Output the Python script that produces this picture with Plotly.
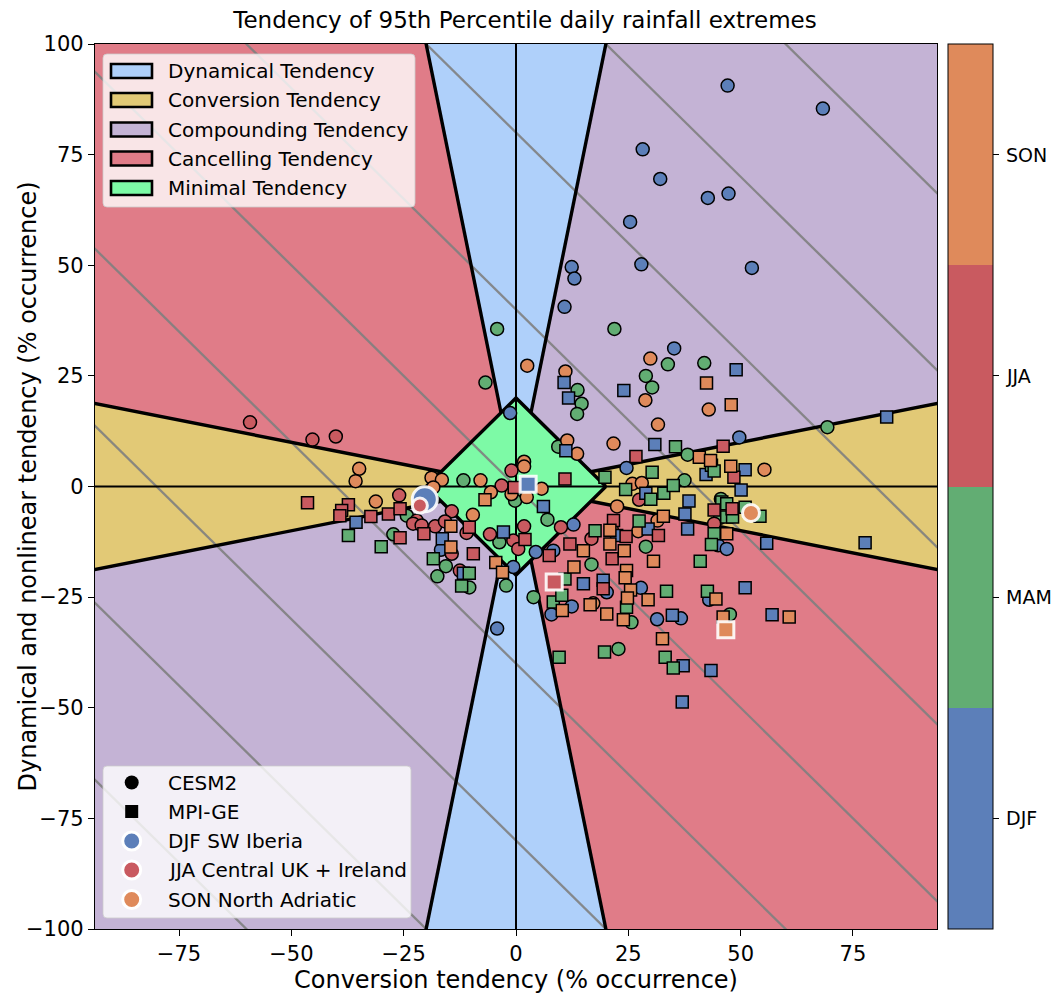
import plotly.graph_objects as go

# ---------------------------------------------------------------- data
seasons = ["DJF", "MAM", "JJA", "SON"]
season_colors = ["#5c7fb9", "#62ad73", "#c95a60", "#df8a5b"]

# CESM2 members (circles)
cesm2_djf_x = [47.1, 68.3, 28.2, 32.1, 42.7, 47.3, 25.4, 27.9, 52.5, 12.4, 13.0, 10.8, 35.2, -1.3, 49.7, 24.6,
               12.8, 4.4, 8.3, -0.6, 20.2, 27.8, 7.9, 12.4, 31.4, 36.7, 43.0, 45.0, 46.9, -16.7, -4.2]
cesm2_djf_y = [90.6, 85.4, 76.2, 69.5, 65.2, 66.2, 59.8, 50.2, 49.4, 49.6, 47.0, 40.6, 31.2, 16.6, 11.1, 4.2,
               -8.6, -14.8, -14.5, -18.2, -23.9, -22.9, -28.9, -27.1, -30.0, -29.8, -25.6, -13.3, -14.1, -14.3, -32.1]
cesm2_mam_x = [-4.2, 21.9, 33.8, 41.9, -6.8, 13.7, 14.6, 13.6, 28.9, 30.3, 9.4, 38.2, 69.3, 37.5, 45.6, 45.4,
               47.6, 7.0, 28.9, 16.8, 3.9, 25.7, 22.8, -27.3, -24.3, -11.7, -15.6, -17.5, -10.4, -2.2, -3.7, -0.2]
cesm2_mam_y = [35.6, 35.6, 27.6, 27.9, 23.5, 21.8, 18.7, 16.4, 25.0, 22.4, 9.0, 7.2, 13.4, 1.4, -2.8, -7.1,
               -28.9, -7.5, -13.6, -17.6, -25.0, -30.7, -36.7, -10.8, -6.6, 1.4, -18.0, -20.3, -22.8, -22.4, -12.6, -3.2]
cesm2_jja_x = [-59.2, -45.3, -40.1, -26.0, -22.1, -22.9, -21.0, -14.3, -18.0, -15.8, -11.0, -14.3, -12.5,
               -5.8, -0.6, -3.2, -1.0, 27.4, 44.1, 10.0, 16.8, 1.8, 0.5]
cesm2_jja_y = [14.5, 10.6, 11.3, -2.0, -7.7, -8.4, -8.8, -5.6, -9.0, -7.9, -10.5, -15.2, -19.0,
               -10.8, -12.2, 0.2, 3.6, -3.0, -8.4, -9.2, -11.8, -9.0, -14.1]
cesm2_son_x = [29.9, 2.5, 11.0, 28.8, 42.9, 31.6, 21.7, 11.4, 13.6, 1.8, 1.8, 55.3, 25.9, 28.0, 22.5, 31.5,
               21.3, 27.2, 17.2, -34.9, -35.7, -31.2, -18.8, -16.5, -18.4, -7.9, -9.6, -5.6, 5.7, -1.0, 2.4]
cesm2_son_y = [28.9, 27.3, 26.0, 19.5, 17.4, 14.0, 9.7, 10.4, 7.4, 5.6, 4.5, 3.8, 0.6, 0.8, -4.5, -7.7,
               -9.6, -10.1, -26.4, 4.0, 1.2, -3.4, 2.0, 1.5, -0.2, 1.4, -6.4, -1.3, -0.5, -1.7, -2.4]

# MPI-GE members (squares)
mpi_djf_x = [49.0, 10.7, 11.7, 24.0, 30.9, 11.1, 51.0, 42.3, 28.9, 50.1, 38.5, 37.6, 22.4, 29.4, 38.2, 82.5,
             55.8, 77.7, 6.1, 15.0, 19.4, 34.8, 51.0, 37.2, 43.4, 37.0, 57.0, -35.6, -16.4, -11.7, -2.8]
mpi_djf_y = [26.4, 23.5, 20.0, 21.7, 9.5, 8.1, 3.8, 2.7, -1.5, -0.8, -3.3, -6.2, -11.1, -9.6, -9.6, 15.7,
             -12.8, -12.7, -4.5, -22.0, -21.2, -29.1, -22.9, -40.5, -41.6, -48.7, -29.0, -8.1, -11.8, -19.6, -10.3]
mpi_mam_x = [35.5, 30.3, 19.8, 24.4, 30.0, 32.9, 35.0, 45.8, 46.9, 44.1, 17.6, 27.4, 43.5, 44.1, 46.9, 48.2,
             51.0, 54.3, 43.5, 41.0, 33.5, 42.6, 24.6, 19.7, 9.6, 33.2, 35.0, 8.3, 10.2, 10.9, -37.3, -30.0,
             -18.4, -10.4, -12.1]
mpi_mam_y = [9.0, 3.2, 2.1, -0.7, -2.9, -1.5, 0.2, -3.5, -6.9, -10.7, -10.0, -7.8, 4.8, 3.5, -3.9, -6.9,
             -4.7, -6.7, -13.1, -16.9, -23.7, -23.7, -27.3, -37.4, -38.6, -38.6, -41.0, -26.1, -24.6, -20.9, -11.1,
             -13.6, -16.3, -19.6, -22.5]
mpi_jja_x = [46.1, 26.7, 48.5, 44.1, 48.1, 21.7, 31.7, 10.9, 24.5, 12.0, 7.4, 21.4, 19.4, -46.4, -37.3, -38.8,
             -39.2, -32.3, -28.4, -25.8, -25.8, -10.4, -9.5, -0.4, 2.0, -20.5]
mpi_jja_y = [9.1, 6.8, 2.1, -5.3, -5.0, -7.7, -11.1, 1.7, -11.3, -13.0, -15.6, -16.3, -23.1, -3.7, -4.1, -5.4,
             -6.6, -6.8, -6.2, -5.0, -11.6, -9.2, -15.2, -0.2, -12.0, -10.7]
mpi_son_x = [42.4, 47.9, 40.8, 43.3, 47.8, 32.8, 20.9, 46.9, 20.9, 15.0, 24.1, 30.6, 12.9, 24.6, 24.3, 25.5,
             24.8, 29.4, 44.5, 10.3, 16.5, 20.2, 23.9, 46.1, 32.6, 60.8, -6.9, -14.5, -14.5, -4.5, -3.0]
mpi_son_y = [23.4, 18.5, 6.6, 5.9, 4.6, -6.7, -9.9, -10.7, -13.0, -14.5, -14.5, -16.9, -18.2, -19.0, -20.6, -23.4,
             -25.2, -25.6, -25.4, -28.0, -26.7, -28.8, -30.1, -29.5, -34.4, -29.5, -3.0, -9.0, -13.7, -17.2, -19.4]

# highlighted regions (one value per model)
region_names = ["DJF SW Iberia", "JJA Central UK + Ireland", "SON North Adriatic"]
region_colors = [season_colors[0], season_colors[2], season_colors[3]]
region_cesm2_x = [-20.3, -21.4, 52.3]
region_cesm2_y = [-2.9, -4.3, -6.0]
region_mpi_x = [2.7, 8.5, 46.7]
region_mpi_y = [0.5, -21.6, -32.4]

# tendency classes
class_names = ["Dynamical Tendency", "Conversion Tendency", "Compounding Tendency",
               "Cancelling Tendency", "Minimal Tendency"]
class_colors = ["#afd0fa", "#e2c976", "#c4b3d5", "#e07c88", "#7dfaa6"]

x_ticks = [-75, -50, -25, 0, 25, 50, 75]
y_ticks = [-100, -75, -50, -25, 0, 25, 50, 75, 100]
XR = 93.7
YR = 100

# ---------------------------------------------------------- geometry
R = 20.0          # half-diagonal of the minimal-tendency diamond
S = 5.0           # slope separating dynamical / compounding-cancelling
E = 115.0         # far extent (clipped by the axes)
a = R / (1 + S)   # x where y = S*x meets the diamond edge
b = R * S / (1 + S)

FONT = "DejaVu Sans"
fig = go.Figure()


def poly(xs, ys, color):
    fig.add_trace(go.Scatter(x=xs + [xs[0]], y=ys + [ys[0]], mode="lines", fill="toself",
                             fillcolor=color, line=dict(width=0), hoverinfo="skip", showlegend=False))


# dynamical (|y| > 5|x|)
poly([0, a, E / S, -E / S, -a], [R, b, E, E, b], class_colors[0])
poly([0, a, E / S, -E / S, -a], [-R, -b, -E, -E, -b], class_colors[0])
# conversion (|y| < |x|/5)
poly([R, b, E, E, b], [0, a, E / S, -E / S, -a], class_colors[1])
poly([-R, -b, -E, -E, -b], [0, a, E / S, -E / S, -a], class_colors[1])
# compounding (same sign)
poly([a, E / S, E, E, b], [b, E, E, E / S, a], class_colors[2])
poly([-a, -E / S, -E, -E, -b], [-b, -E, -E, -E / S, -a], class_colors[2])
# cancelling (opposite sign)
poly([-a, -E / S, -E, -E, -b], [b, E, E, E / S, a], class_colors[3])
poly([a, E / S, E, E, b], [-b, -E, -E, -E / S, -a], class_colors[3])
# minimal
poly([R, 0, -R, 0], [0, R, 0, -R], class_colors[4])

# lines of constant total change (x + y = const)
gx, gy = [], []
for c in range(-200, 201, 40):
    gx += [-E, E, None]
    gy += [c + E, c - E, None]
fig.add_trace(go.Scatter(x=gx, y=gy, mode="lines", line=dict(color="rgba(128,128,128,0.9)", width=2.3),
                         hoverinfo="skip", showlegend=False))

# class boundaries
bx, by = [], []
for sx in (1, -1):
    for sy in (1, -1):
        bx += [sx * a, sx * E / S, None, sx * b, sx * E, None]
        by += [sy * b, sy * E, None, sy * a, sy * E / S, None]
bx += [R, 0, -R, 0, R]
by += [0, R, 0, -R, 0]
fig.add_trace(go.Scatter(x=bx, y=by, mode="lines", line=dict(color="black", width=3.4),
                         hoverinfo="skip", showlegend=False))
fig.add_trace(go.Scatter(x=[-E, E, None, 0, 0], y=[0, 0, None, -E, E], mode="lines",
                         line=dict(color="black", width=2), hoverinfo="skip", showlegend=False))

# ------------------------------------------------------------ points
colorscale = []
for i, c in enumerate(season_colors):
    colorscale += [[i / 4, c], [(i + 1) / 4, c]]


def combine(parts):
    xs, ys, cs = [], [], []
    for k, (px_, py_) in enumerate(parts):
        xs += px_
        ys += py_
        cs += [k] * len(px_)
    return xs, ys, cs


cx, cy, cc = combine([(cesm2_djf_x, cesm2_djf_y), (cesm2_mam_x, cesm2_mam_y),
                      (cesm2_jja_x, cesm2_jja_y), (cesm2_son_x, cesm2_son_y)])
mx, my, mc = combine([(mpi_djf_x, mpi_djf_y), (mpi_mam_x, mpi_mam_y),
                      (mpi_jja_x, mpi_jja_y), (mpi_son_x, mpi_son_y)])

L, T, W, H = 95, 44, 842, 885
CB_X0, CB_W = 948, 45

# season labels are written next to the bar as annotations (see below)
colorbar = dict(tickvals=[0, 1, 2, 3], ticktext=seasons, thickness=CB_W, len=1, lenmode="fraction",
                y=0.5, yanchor="middle", x=(CB_X0 - L) / W, xanchor="left", xpad=0, ypad=0,
                outlinecolor="black", outlinewidth=1, ticks="outside", ticklen=6, tickwidth=1.2,
                tickcolor="black", showticklabels=False)

fig.add_trace(go.Scatter(x=cx, y=cy, mode="markers", name="CESM2", showlegend=False,
                         marker=dict(symbol="circle", size=13, color=cc, colorscale=colorscale,
                                     cmin=-0.5, cmax=3.5, line=dict(color="black", width=1.5),
                                     showscale=True, colorbar=colorbar)))
fig.add_trace(go.Scatter(x=mx, y=my, mode="markers", name="MPI-GE", showlegend=False,
                         marker=dict(symbol="square", size=12, color=mc, colorscale=colorscale,
                                     cmin=-0.5, cmax=3.5, line=dict(color="black", width=1.5))))

hl_sizes = [25, 15, 17]
for i, name in enumerate(region_names):
    fig.add_trace(go.Scatter(x=[region_cesm2_x[i]], y=[region_cesm2_y[i]], mode="markers", showlegend=False,
                             marker=dict(symbol="circle", size=hl_sizes[i], color=region_colors[i],
                                         line=dict(color="rgba(255,255,255,0.9)", width=3))))
    fig.add_trace(go.Scatter(x=[region_mpi_x[i]], y=[region_mpi_y[i]], mode="markers", showlegend=False,
                             marker=dict(symbol="square", size=16, color=region_colors[i],
                                         line=dict(color="rgba(255,255,255,0.9)", width=3))))

# ------------------------------------------------------------ legends


def px(xp):
    return (xp - L) / W


def py(yp):
    return (T + H - yp) / H


def rounded_box(x0, y0, x1, y1, r=4):
    X0, X1, Y0, Y1 = px(x0), px(x1), py(y1), py(y0)
    rx, ry = r / W, r / H
    return (f"M{X0 + rx},{Y0} L{X1 - rx},{Y0} Q{X1},{Y0} {X1},{Y0 + ry} L{X1},{Y1 - ry} "
            f"Q{X1},{Y1} {X1 - rx},{Y1} L{X0 + rx},{Y1} Q{X0},{Y1} {X0},{Y1 - ry} "
            f"L{X0},{Y0 + ry} Q{X0},{Y0} {X0 + rx},{Y0} Z")


LEG_FONT = dict(family=FONT, size=20, color="black")
shapes, annotations = [], []
for box in [(103, 54, 415, 207), (103, 766, 411, 918)]:
    shapes.append(dict(type="path", xref="paper", yref="paper", path=rounded_box(*box),
                       fillcolor="rgba(255,255,255,0.8)", line=dict(color="rgba(204,204,204,0.8)", width=1),
                       layer="above"))

rows1 = [71, 100, 129.5, 158.5, 188]
for name, color, yy in zip(class_names, class_colors, rows1):
    shapes.append(dict(type="rect", xref="paper", yref="paper", x0=px(111), x1=px(152),
                       y0=py(yy + 7), y1=py(yy - 7), fillcolor=color,
                       line=dict(color="black", width=2.6), layer="above"))
    annotations.append(dict(x=px(166), y=py(yy), xref="paper", yref="paper", text=name, showarrow=False,
                            xanchor="left", yanchor="middle", font=LEG_FONT))

rows2 = [782.5, 811.5, 841, 870, 899.5]
mk_x = 131.7
legend2 = [("CESM2", "circle", "black", None), ("MPI-GE", "rect", "black", None)]
legend2 += [(n, "circle", c, "white") for n, c in zip(region_names, region_colors)]
for (name, kind, color, edge), yy in zip(legend2, rows2):
    half = 7 if edge is None else 9
    if kind == "rect":
        half = 6.5
    shapes.append(dict(type=kind, xref="paper", yref="paper", xsizemode="pixel", ysizemode="pixel",
                       xanchor=px(mk_x), yanchor=py(yy), x0=-half, x1=half, y0=-half, y1=half,
                       fillcolor=color, layer="above",
                       line=dict(color=edge if edge else color, width=3 if edge else 0)))
    annotations.append(dict(x=px(166), y=py(yy), xref="paper", yref="paper", text=name, showarrow=False,
                            xanchor="left", yanchor="middle", font=LEG_FONT))

# season labels beside the colour bar
for k, s in enumerate(seasons):
    annotations.append(dict(x=px(CB_X0 + CB_W + 11), y=(k + 0.5) / 4, xref="paper", yref="paper", text=s,
                            showarrow=False, xanchor="left", yanchor="middle",
                            font=dict(family=FONT, size=19, color="black")))

# axis titles
TITLE_FONT = dict(family=FONT, size=24, color="black")
annotations.append(dict(x=0.5, y=py(980), xref="paper", yref="paper", text="Conversion tendency (% occurrence)",
                        showarrow=False, xanchor="center", yanchor="middle", font=TITLE_FONT))
annotations.append(dict(x=px(27), y=0.5, xref="paper", yref="paper",
                        text="Dynamical and nonlinear tendency (% occurrence)", textangle=-90,
                        showarrow=False, xanchor="center", yanchor="middle", font=TITLE_FONT))

axis_common = dict(showgrid=False, zeroline=False, showline=True, mirror=True, linecolor="black",
                   linewidth=1.2, ticks="outside", ticklen=6, tickwidth=1.2, tickcolor="black",
                   tickfont=dict(family=FONT, size=21, color="black"))

fig.update_layout(
    width=1058, height=995,
    margin=dict(l=L, r=1058 - L - W, t=T, b=995 - T - H),
    paper_bgcolor="white", plot_bgcolor="white",
    font=dict(family=FONT, color="black"),
    title=dict(text="Tendency of 95th Percentile daily rainfall extremes", x=525 / 1058, xref="container",
               xanchor="center", y=1 - 20 / 995, yref="container", yanchor="middle",
               font=dict(family=FONT, size=23, color="black")),
    xaxis=dict(range=[-XR, XR], tickvals=x_ticks, **axis_common),
    yaxis=dict(range=[-YR, YR], tickvals=y_ticks, **axis_common),
    shapes=shapes, annotations=annotations, showlegend=False,
)

fig.write_html("out.html")
